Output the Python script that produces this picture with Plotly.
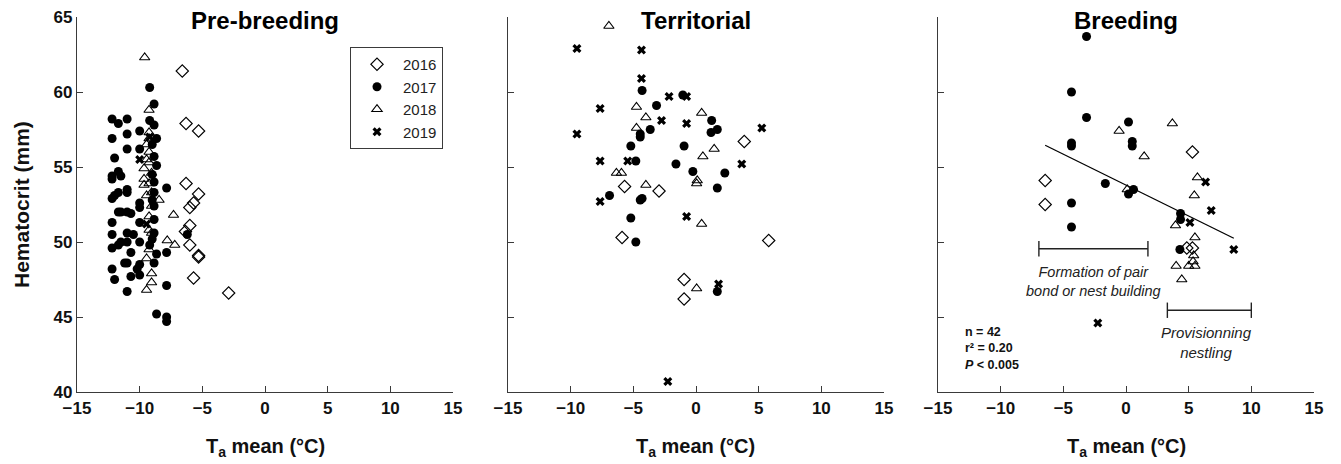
import plotly.graph_objects as go

# ---------------- data ----------------
years = ["2016", "2017", "2018", "2019"]

# Pre-breeding
pre_2016_x = [-6.6, -6.3, -5.3, -6.3, -5.3, -5.7, -6.0, -6.0, -6.35, -6.0, -5.3, -5.3, -5.7, -2.9]
pre_2016_y = [61.4, 57.9, 57.4, 53.9, 53.2, 52.6, 52.3, 51.1, 50.7, 49.8, 49.1, 49.0, 47.6, 46.6]
pre_2017_x = [-12.2, -11.7, -12.2, -12.0, -12.2, -12.2, -11.7, -11.5, -12.2, -12.0, -11.7, -12.2, -12.2,
              -11.7, -11.5, -11.0, -10.7, -12.2, -11.7, -11.5, -12.2, -12.0,
              -11.0, -11.0, -11.0, -11.0, -11.0, -11.0, -11.0, -10.7, -11.2, -11.0, -10.7, -11.0,
              -10.0, -10.0, -10.0, -10.0, -10.0, -10.0, -10.0, -10.0, -10.2, -10.5,
              -9.2, -8.85, -9.2, -8.85, -8.65, -9.0, -8.85, -8.65, -9.0, -8.85, -8.85, -9.0, -8.85,
              -8.85, -8.85, -9.2, -9.0, -8.65, -8.85,
              -7.85, -7.85, -7.85, -8.65, -7.85, -7.85, -6.2]
pre_2017_y = [58.2, 57.9, 56.9, 55.6, 54.4, 54.2, 54.7, 54.4, 52.9, 53.1, 53.3, 51.3, 50.5,
              52.0, 52.0, 52.0, 51.9, 49.6, 49.8, 50.0, 48.2, 47.5,
              58.2, 57.2, 56.2, 53.5, 53.3, 50.6, 50.0, 49.3, 48.6, 48.6, 47.7, 46.7,
              57.4, 56.2, 52.6, 52.3, 51.3, 50.0, 48.5, 47.8, 48.2, 50.5,
              60.3, 59.2, 58.1, 57.8, 56.9, 56.5, 55.7, 55.1, 54.5, 54.0, 53.3, 52.8, 52.4,
              51.5, 50.6, 49.8, 50.2, 49.2, 48.6,
              53.6, 49.3, 47.1, 45.2, 45.0, 44.7, 50.5]
pre_2018_x = [-9.6, -9.25, -9.25, -9.25, -9.45, -9.25, -9.45, -9.25, -9.65, -9.05, -9.65, -9.25, -9.65,
              -9.05, -9.45, -8.45, -9.05, -9.25, -7.3, -9.25, -9.05, -7.8, -7.2, -9.25, -9.45,
              -9.05, -9.05, -9.45]
pre_2018_y = [62.3, 58.8, 57.3, 56.9, 56.5, 56.0, 55.5, 55.3, 54.9, 54.6, 54.2, 53.9, 53.8,
              53.3, 53.1, 52.8, 52.4, 51.7, 51.8, 50.8, 50.6, 50.1, 49.8, 49.5, 48.9,
              47.9, 47.3, 46.8]
pre_2019_x = [-10.0, -9.45, -9.2]
pre_2019_y = [55.5, 51.2, 57.0]

# Territorial
ter_2016_x = [-5.7, -2.95, -5.9, -0.95, -0.95, 3.85, 5.8]
ter_2016_y = [53.7, 53.4, 50.3, 47.5, 46.2, 56.7, 50.1]
ter_2017_x = [-4.3, -3.15, -3.65, -4.45, -4.45, -5.2, -4.8, -6.9, -4.3, -4.45, -5.2, -4.8,
              -0.95, -1.6, -0.25, -1.05, 1.25, 1.2, 1.7, 2.3, 1.7, 1.7]
ter_2017_y = [60.1, 59.1, 57.5, 57.2, 57.0, 56.4, 55.4, 53.1, 52.9, 52.8, 51.6, 50.0,
              56.4, 55.2, 54.7, 59.8, 58.1, 57.3, 57.5, 54.6, 53.6, 46.7]
ter_2018_x = [-6.95, -4.75, -4.0, -4.75, -6.35, -5.95, -4.0, 0.45, 1.45, 0.55, 0.1, 0.05, 0.45, 0.05]
ter_2018_y = [64.4, 59.0, 58.3, 57.6, 54.6, 54.6, 53.8, 58.6, 56.2, 55.7, 54.1, 53.9, 51.2, 46.9]
ter_2019_x = [-9.5, -4.35, -4.35, -2.15, -0.75, -7.65, -2.75, -0.75, -9.5, 5.25, -7.65, -5.45,
              3.65, -7.65, -0.75, 1.8, -2.25]
ter_2019_y = [62.9, 62.8, 60.9, 59.7, 59.7, 58.9, 58.1, 57.9, 57.2, 57.6, 55.4, 55.4,
              55.2, 52.7, 51.7, 47.2, 40.7]

# Breeding
bre_2016_x = [-6.45, -6.45, 5.3, 4.85, 5.3]
bre_2016_y = [54.1, 52.5, 56.0, 49.6, 49.6]
bre_2017_x = [-3.15, -4.35, -3.15, -4.35, -4.35, 0.2, 0.5, 0.5, -1.65, 0.2, 0.6, -4.35, -4.35,
              4.35, 4.35, 4.3]
bre_2017_y = [63.7, 60.0, 58.3, 56.6, 56.4, 58.0, 56.7, 56.4, 53.9, 53.2, 53.5, 52.6, 51.0,
              51.9, 51.5, 49.5]
bre_2018_x = [-0.55, 3.7, 1.45, 0.1, 5.7, 5.45, 3.95, 5.5, 5.4, 5.0, 5.5, 4.0, 4.45, 5.35]
bre_2018_y = [57.4, 57.9, 55.7, 53.5, 54.3, 53.1, 51.1, 50.3, 49.1, 48.4, 48.4, 48.4, 47.5, 48.7]
bre_2019_x = [6.35, 6.8, 5.1, 8.6, -2.25]
bre_2019_y = [54.0, 52.1, 51.3, 49.5, 44.6]

reg_x = [-6.45, 8.6]
reg_y = [56.45, 50.25]

formation_x = [-6.95, 1.75]
formation_y = [49.55, 49.55]
provision_x = [3.3, 10.0]
provision_y = [45.45, 45.45]

x_ticks = [-15, -10, -5, 0, 5, 10, 15]
y_ticks = [40, 45, 50, 55, 60, 65]
panel_titles = ["Pre-breeding", "Territorial", "Breeding"]

# --------------- styling ---------------
FONT = "Liberation Sans, Arial, sans-serif"
AX = "#3a3a3a"
styles = {
    "2016": dict(symbol="diamond-open", size=9.5, color="black", line=dict(width=1.1, color="black")),
    "2017": dict(symbol="circle", size=9, color="black", line=dict(width=0)),
    "2018": dict(symbol="triangle-up-open", size=9, color="black", line=dict(width=1.1, color="black")),
    "2019": dict(symbol="x", size=8, color="black", line=dict(width=0)),
}

panels = [
    {"2016": (pre_2016_x, pre_2016_y), "2017": (pre_2017_x, pre_2017_y),
     "2018": (pre_2018_x, pre_2018_y), "2019": (pre_2019_x, pre_2019_y)},
    {"2016": (ter_2016_x, ter_2016_y), "2017": (ter_2017_x, ter_2017_y),
     "2018": (ter_2018_x, ter_2018_y), "2019": (ter_2019_x, ter_2019_y)},
    {"2016": (bre_2016_x, bre_2016_y), "2017": (bre_2017_x, bre_2017_y),
     "2018": (bre_2018_x, bre_2018_y), "2019": (bre_2019_x, bre_2019_y)},
]

W, H = 1341, 464
px_dom = [(77, 453), (508, 884), (938, 1314)]
y_dom = [1 - 392 / H, 1 - 17 / H]

fig = go.Figure()
for i, pdata in enumerate(panels):
    xa = "x" if i == 0 else f"x{i+1}"
    ya = "y" if i == 0 else f"y{i+1}"
    for yr in years:
        xs, ys = pdata[yr]
        fig.add_trace(go.Scatter(
            x=xs, y=ys, mode="markers", name=yr, xaxis=xa, yaxis=ya,
            marker=styles[yr], legendgroup=yr, showlegend=(i == 0), cliponaxis=False,
        ))

# Breeding extras
fig.add_trace(go.Scatter(x=reg_x, y=reg_y, mode="lines", xaxis="x3", yaxis="y3",
                         line=dict(color="black", width=1.3), showlegend=False))
for bx, by in [(formation_x, formation_y), (provision_x, provision_y)]:
    fig.add_trace(go.Scatter(x=bx, y=by, mode="lines+markers", xaxis="x3", yaxis="y3",
                             line=dict(color="#222", width=1.4),
                             marker=dict(symbol="line-ns-open", size=11, line=dict(width=1.4, color="#222")),
                             showlegend=False, cliponaxis=False))

layout = dict(
    width=W, height=H, margin=dict(l=0, r=0, t=0, b=0, autoexpand=False),
    paper_bgcolor="white", plot_bgcolor="white",
    font=dict(family=FONT, color="black"),
    showlegend=True,
    legend=dict(x=350 / W, y=1 - 47 / H, xanchor="left", yanchor="top",
                bordercolor=AX, borderwidth=1, bgcolor="white",
                font=dict(size=15, family=FONT, color="#222"),
                tracegroupgap=0, itemwidth=42),
)

for i, (a, b) in enumerate(px_dom):
    sx = "" if i == 0 else str(i + 1)
    layout[f"xaxis{sx}"] = dict(
        domain=[a / W, b / W], range=[-15, 15], anchor=f"y{sx}",
        tickvals=x_ticks, ticks="inside", ticklen=6, tickcolor=AX,
        showline=True, linecolor=AX, linewidth=1.3, showgrid=False, zeroline=False,
        automargin=False,
        tickfont=dict(size=17, weight="bold", family=FONT, color="#111"),
    )
    layout[f"yaxis{sx}"] = dict(
        domain=y_dom, range=[40, 65], anchor=f"x{sx}",
        tickvals=y_ticks, ticks="inside", ticklen=6, tickcolor=AX,
        showline=True, linecolor=AX, linewidth=1.3, showgrid=False, zeroline=False,
        showticklabels=(i == 0), automargin=False,
        tickfont=dict(size=17, weight="bold", family=FONT, color="#111"),
    )

fig.update_layout(**layout)

ann = []
for i, (a, b) in enumerate(px_dom):
    c = (a + b) / 2 / W
    ann.append(dict(x=c, y=1 - 21 / H, xref="paper", yref="paper", text=f"<b>{panel_titles[i]}</b>",
                    showarrow=False, font=dict(size=24, family=FONT, color="black"),
                    xanchor="center", yanchor="middle"))
    ann.append(dict(x=c, y=1 - 447 / H, xref="paper", yref="paper",
                    text="<b>T<sub>a</sub> mean (°C)</b>", showarrow=False,
                    font=dict(size=20, family=FONT, color="#111"), xanchor="center", yanchor="middle"))
ann.append(dict(x=21 / W, y=1 - 205 / H, xref="paper", yref="paper", text="<b>Hematocrit (mm)</b>",
                textangle=-90, showarrow=False, xanchor="center", yanchor="middle",
                font=dict(size=21, family=FONT, color="#111")))
# Breeding annotations
ann.append(dict(x=-2.6, y=47.4, xref="x3", yref="y3",
                text="<i>Formation of pair<br>bond or nest building</i>", showarrow=False,
                xanchor="center", yanchor="middle",
                font=dict(size=14.5, family=FONT, color="#222"), align="center"))
ann.append(dict(x=6.4, y=43.3, xref="x3", yref="y3",
                text="<i>Provisionning<br>nestling</i>", showarrow=False,
                xanchor="center", yanchor="middle",
                font=dict(size=15, family=FONT, color="#222"), align="center"))
ann.append(dict(x=-13.0, y=42.9, xref="x3", yref="y3", xanchor="left", yanchor="middle",
                text="<b>n = 42<br>r² = 0.20<br><i>P</i> < 0.005</b>", showarrow=False,
                font=dict(size=12.5, family=FONT, color="#111"), align="left"))
fig.update_layout(annotations=ann)

fig.write_html("out.html")
